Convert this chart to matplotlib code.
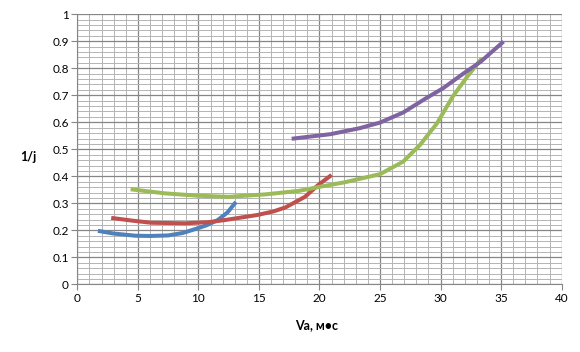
import matplotlib
matplotlib.use("Agg")
import matplotlib.pyplot as plt
import numpy as np

plt.rcParams['font.family'] = ['Lato', 'DejaVu Sans']

blue_x = [1.7, 3, 4.8, 6, 7.5, 8.7, 9.7, 10.7, 11.6, 12.4, 13.1]
blue_y = [0.198, 0.188, 0.180, 0.179, 0.181, 0.190, 0.204, 0.219, 0.238, 0.266, 0.305]

red_x = [2.8, 4.5, 6.1, 8.9, 10.8, 12.2, 14.9, 16.2, 17.2, 18.8, 19.9, 21.0]
red_y = [0.246, 0.236, 0.228, 0.226, 0.230, 0.238, 0.257, 0.270, 0.285, 0.324, 0.368, 0.405]

green_x = [4.4, 7.2, 10.0, 12.5, 15.5, 18.3, 20.0, 22.1, 25.0, 26.9, 28.3, 29.7, 31.0, 32.2, 33.4]
green_y = [0.352, 0.337, 0.328, 0.324, 0.333, 0.346, 0.361, 0.378, 0.408, 0.454, 0.516, 0.596, 0.695, 0.769, 0.837]

purple_x = [17.7, 20.9, 23.3, 25.0, 26.9, 28.8, 30.2, 31.9, 33.3, 35.2]
purple_y = [0.539, 0.556, 0.578, 0.599, 0.636, 0.689, 0.726, 0.781, 0.824, 0.899]

x_ticks = [0, 5, 10, 15, 20, 25, 30, 35, 40]
y_ticks = [0, 0.1, 0.2, 0.3, 0.4, 0.5, 0.6, 0.7, 0.8, 0.9, 1]
y_labels = ['0', '0.1', '0.2', '0.3', '0.4', '0.5', '0.6', '0.7', '0.8', '0.9', '1']

fig = plt.figure(figsize=(5.8, 3.52), dpi=100)
ax = fig.add_axes([0.1333, 0.1923, 0.8351, 0.7671])

series = [(blue_x, blue_y, '#4F81BD'), (red_x, red_y, '#C0504D'),
          (green_x, green_y, '#9BBB59'), (purple_x, purple_y, '#8064A2')]
for xs, ys, c in series:
    ax.plot(xs, ys, color=c, lw=2.9, solid_capstyle='butt', solid_joinstyle='round', zorder=3)

ax.set_xlim(0, 40)
ax.set_ylim(0, 1)
ax.set_xticks(x_ticks)
ax.set_yticks(y_ticks)
ax.set_yticklabels(y_labels)
ax.set_xticks(np.arange(0, 41, 1), minor=True)
ax.set_yticks(np.arange(0, 1.0001, 0.02), minor=True)
ax.grid(which='major', color='#868686', lw=0.9, zorder=1)
ax.grid(which='minor', color='#b4b4b4', lw=0.7, zorder=0)
ax.tick_params(which='major', direction='out', length=4, color='#868686', labelsize=8.5, pad=2)
ax.tick_params(which='minor', length=0)
for s in ['top', 'right']:
    ax.spines[s].set_visible(False)
for s in ['left', 'bottom']:
    ax.spines[s].set_color('#868686')

fig.text(28 / 580, 1 - 157 / 352, '1/j', fontsize=9, fontweight='bold', ha='center', va='center')
fig.text(317 / 580, 1 - 325 / 352, 'Va, м•с', fontsize=9, fontweight='bold', ha='center', va='center')

fig.savefig('out.png', dpi=100)
